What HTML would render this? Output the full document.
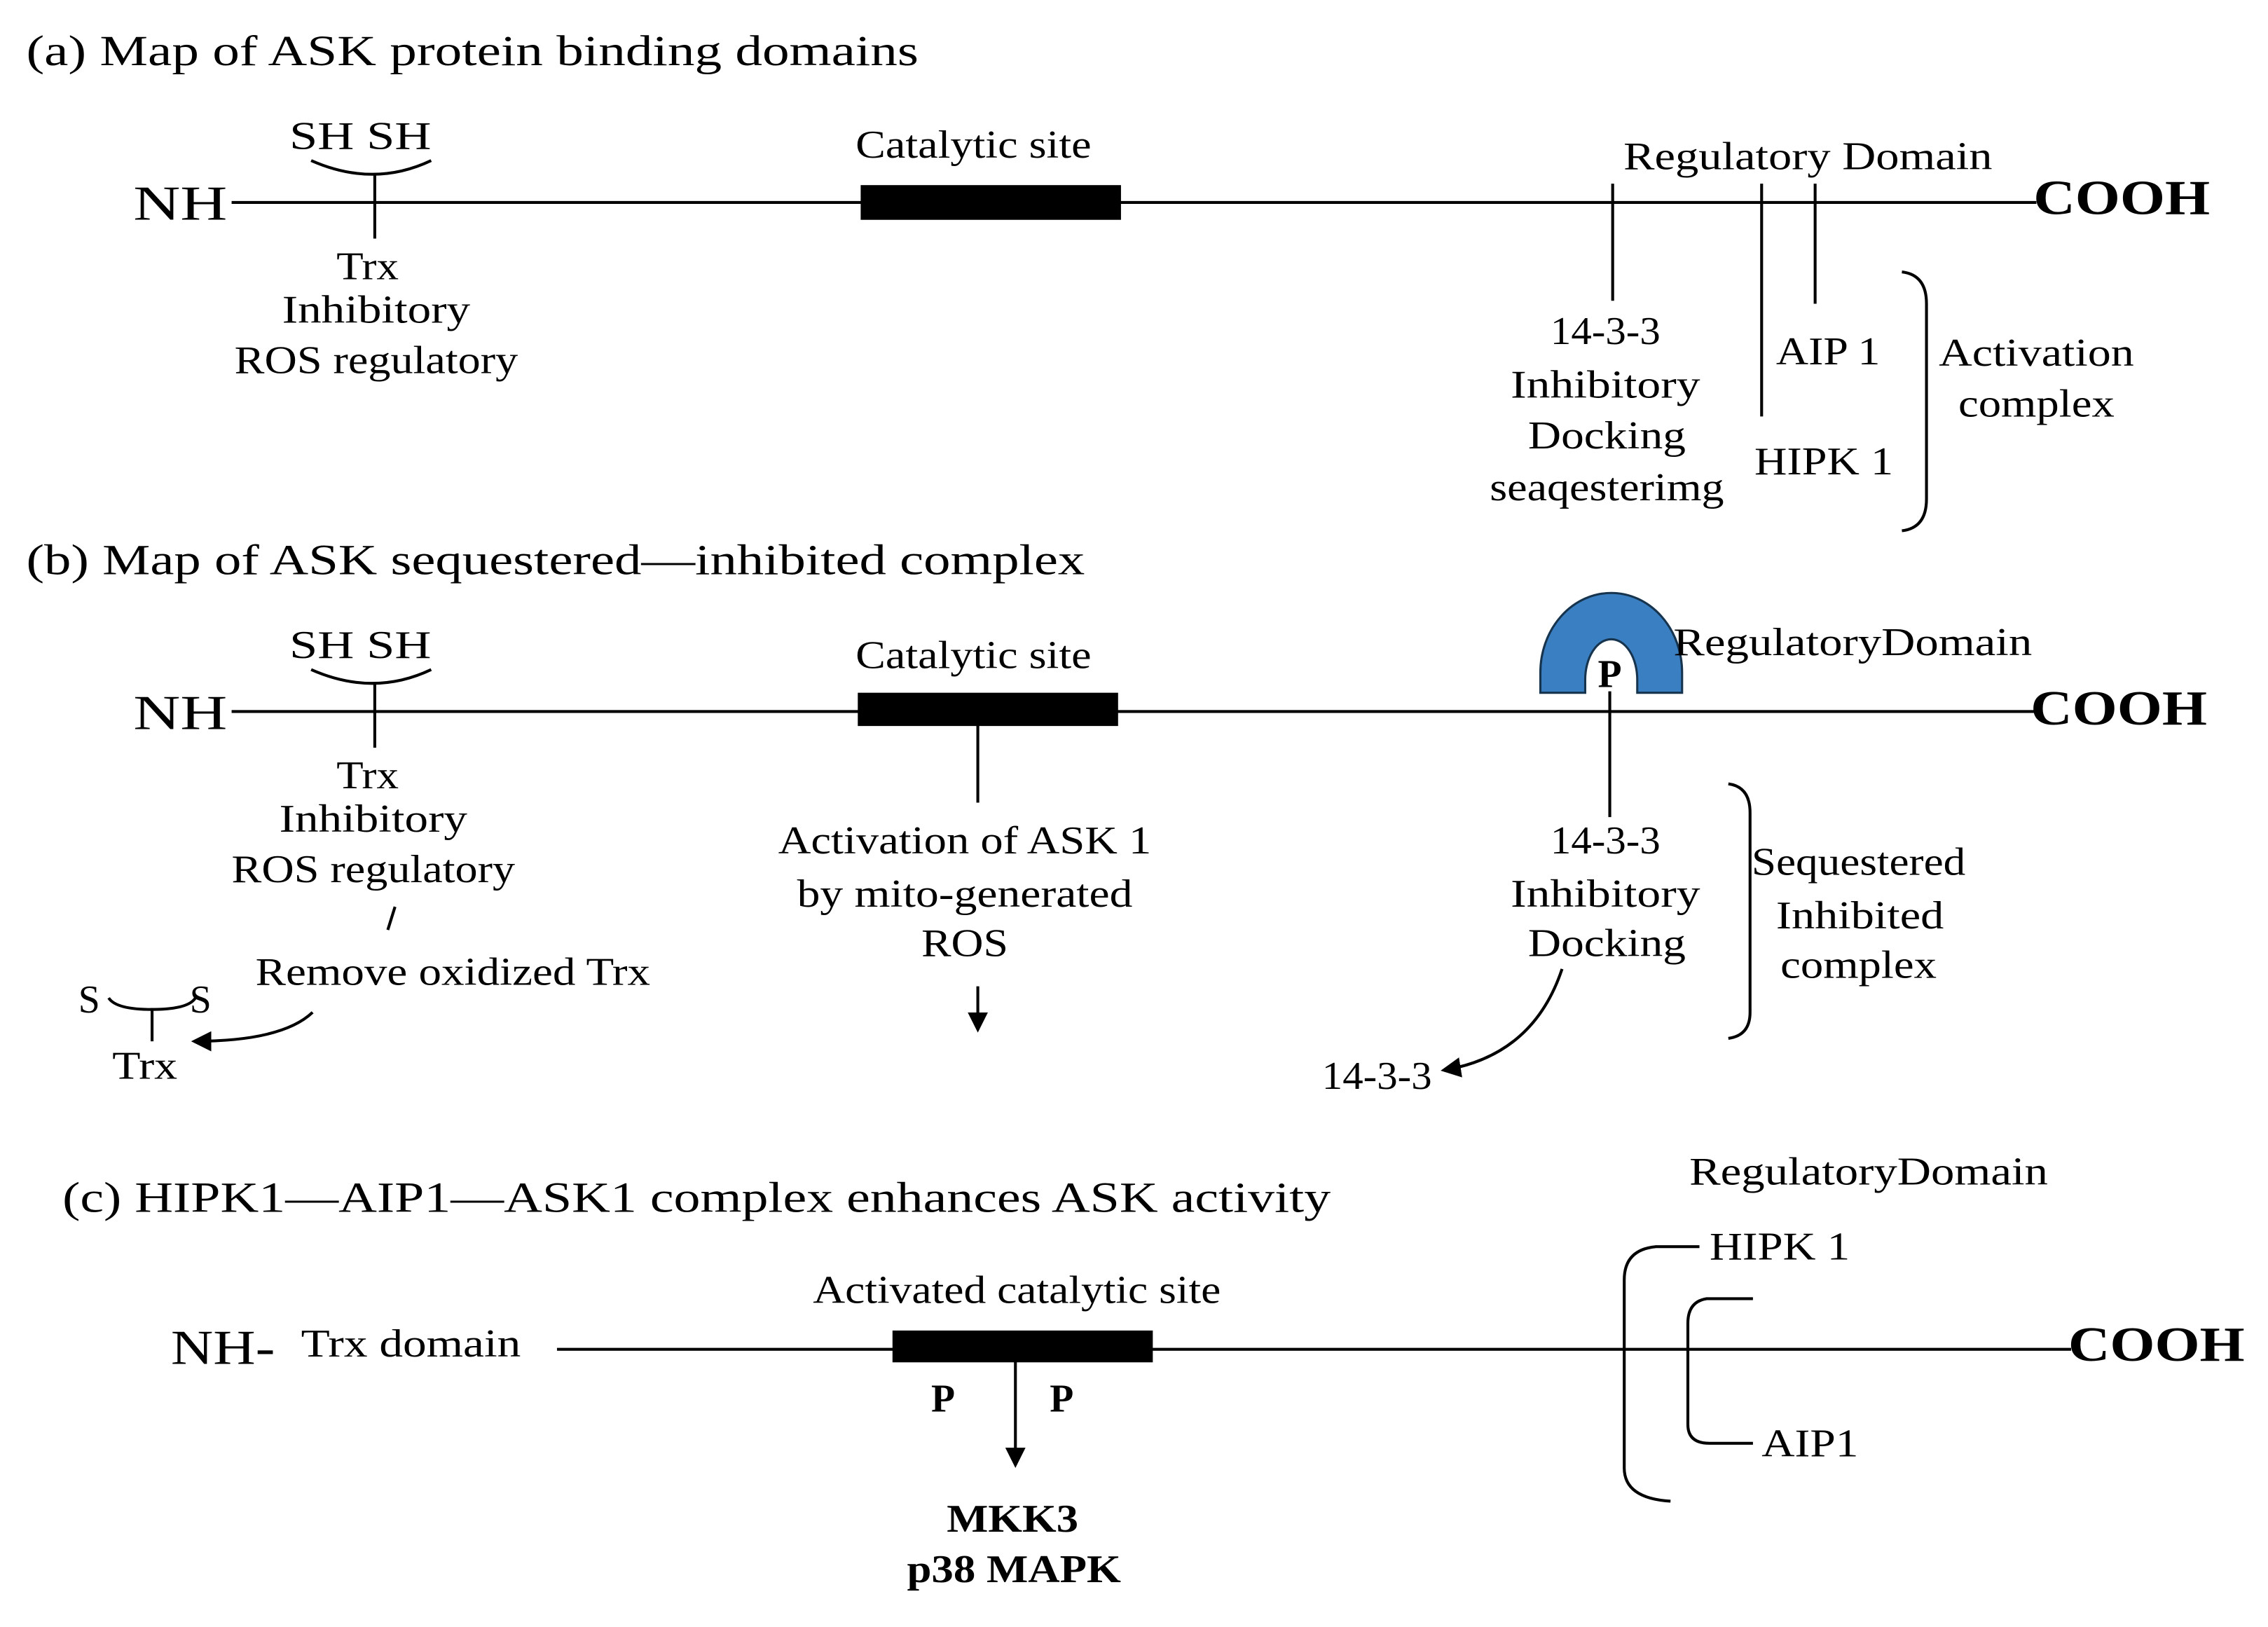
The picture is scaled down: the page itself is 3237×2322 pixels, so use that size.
<!DOCTYPE html>
<html><head><meta charset="utf-8"><style>
html,body{margin:0;padding:0;background:#fff}
svg{display:block}
text{font-family:"Liberation Serif",serif;fill:#000}
</style></head><body>
<svg width="3237" height="2322" viewBox="0 0 1568 1125" xmlns="http://www.w3.org/2000/svg">
<defs><marker id="ah2" markerWidth="14" markerHeight="14" refX="12" refY="7" orient="auto" markerUnits="userSpaceOnUse"><path d="M0,0 L14,7 L0,14 Z" fill="#000"/></marker></defs>
<g stroke="#000" stroke-width="2" fill="none">
<line x1="160" y1="140" x2="1408" y2="140"/>
<path d="M215,111 Q258,130 298,111"/>
<line x1="259" y1="120" x2="259" y2="165"/>
<line x1="1115" y1="127" x2="1115" y2="208"/>
<line x1="1218" y1="127" x2="1218" y2="288"/>
<line x1="1255" y1="127" x2="1255" y2="210"/>
<path d="M1315,188 Q1332,190 1332,210 L1332,345 Q1332,365 1315,367"/>
<line x1="160" y1="492" x2="1408" y2="492"/>
<path d="M215,463 Q258,482 298,463"/>
<line x1="259" y1="472" x2="259" y2="517"/>
<line x1="676" y1="500" x2="676" y2="555"/>
<line x1="1113" y1="478" x2="1113" y2="565"/>
<line x1="273" y1="627" x2="268" y2="643"/>
<path d="M75,690 Q80,698 105,698 Q130,698 135,690"/>
<line x1="105" y1="697" x2="105" y2="720"/>
<path d="M216,700 Q195,720 134,720" marker-end="url(#ah2)"/>
<line x1="676" y1="682" x2="676" y2="712" marker-end="url(#ah2)"/>
<path d="M1080,670 Q1060,730 998,740" marker-end="url(#ah2)"/>
<path d="M1195,542 Q1210,544 1210,562 L1210,700 Q1210,716 1195,718"/>
<line x1="385" y1="933" x2="1432" y2="933"/>
<line x1="702" y1="935" x2="702" y2="1013" marker-end="url(#ah2)"/>
<path d="M1175,862 L1145,862 Q1123,864 1123,885 L1123,1015 Q1123,1036 1155,1038"/>
<path d="M1212,898 L1180,898 Q1167,900 1167,915 L1167,985 Q1167,998 1182,998 L1212,998"/>
</g>
<rect x="595" y="128" width="180" height="24" fill="#000"/>
<rect x="593" y="479" width="180" height="23" fill="#000"/>
<rect x="617" y="920" width="180" height="22" fill="#000"/>
<path d="M1065,479 L1065,465 A49,55 0 0 1 1163,465 L1163,479 L1132,479 L1132,470 A18,28 0 0 0 1096,470 L1096,479 Z" fill="#3a7fc1" stroke="#17344f" stroke-width="1.5"/>
<g font-size="30" lengthAdjust="spacingAndGlyphs">
<text x="18" y="45" textLength="617" lengthAdjust="spacingAndGlyphs">(a)  Map of ASK protein binding domains</text>
<text x="18" y="397" textLength="732" lengthAdjust="spacingAndGlyphs">(b)  Map of ASK sequestered—inhibited complex</text>
<text x="43" y="838" textLength="877" lengthAdjust="spacingAndGlyphs">(c)  HIPK1—AIP1—ASK1 complex enhances ASK activity</text>
</g>
<g font-size="34">
<text x="92" y="152" textLength="65" lengthAdjust="spacingAndGlyphs">NH</text>
<text x="92" y="504" textLength="65" lengthAdjust="spacingAndGlyphs">NH</text>
<text x="118" y="943" textLength="72" lengthAdjust="spacingAndGlyphs">NH-</text>
</g>
<g font-size="34" font-weight="bold">
<text x="1406" y="148" textLength="122" lengthAdjust="spacingAndGlyphs">COOH</text>
<text x="1404" y="501" textLength="122" lengthAdjust="spacingAndGlyphs">COOH</text>
<text x="1430" y="941" textLength="122" lengthAdjust="spacingAndGlyphs">COOH</text>
</g>
<g font-size="27" text-anchor="middle">
<text x="249" y="103" textLength="98" lengthAdjust="spacingAndGlyphs">SH  SH</text>
<text x="673" y="109" textLength="163" lengthAdjust="spacingAndGlyphs">Catalytic site</text>
<text x="1250" y="117" textLength="255" lengthAdjust="spacingAndGlyphs">Regulatory Domain</text>
<text x="254" y="193" textLength="43" lengthAdjust="spacingAndGlyphs">Trx</text>
<text x="260" y="223" textLength="130" lengthAdjust="spacingAndGlyphs">Inhibitory</text>
<text x="260" y="258" textLength="196" lengthAdjust="spacingAndGlyphs">ROS regulatory</text>
<text x="1110" y="238" textLength="76" lengthAdjust="spacingAndGlyphs">14-3-3</text>
<text x="1110" y="275" textLength="131" lengthAdjust="spacingAndGlyphs">Inhibitory</text>
<text x="1111" y="310" textLength="109" lengthAdjust="spacingAndGlyphs">Docking</text>
<text x="1111" y="346" textLength="162" lengthAdjust="spacingAndGlyphs">seaqesterimg</text>
<text x="1264" y="252" textLength="72" lengthAdjust="spacingAndGlyphs">AIP 1</text>
<text x="1261" y="328" textLength="96" lengthAdjust="spacingAndGlyphs">HIPK 1</text>
<text x="1408" y="253" textLength="135" lengthAdjust="spacingAndGlyphs">Activation</text>
<text x="1408" y="288" textLength="108" lengthAdjust="spacingAndGlyphs">complex</text>
<text x="249" y="455" textLength="98" lengthAdjust="spacingAndGlyphs">SH  SH</text>
<text x="673" y="462" textLength="163" lengthAdjust="spacingAndGlyphs">Catalytic site</text>
<text x="254" y="545" textLength="43" lengthAdjust="spacingAndGlyphs">Trx</text>
<text x="258" y="575" textLength="130" lengthAdjust="spacingAndGlyphs">Inhibitory</text>
<text x="258" y="610" textLength="196" lengthAdjust="spacingAndGlyphs">ROS regulatory</text>
<text x="313" y="681" textLength="273" lengthAdjust="spacingAndGlyphs">Remove oxidized Trx</text>
<text x="100" y="746" textLength="45" lengthAdjust="spacingAndGlyphs">Trx</text>
<text x="667" y="590" textLength="258" lengthAdjust="spacingAndGlyphs">Activation of ASK 1</text>
<text x="667" y="627" textLength="232" lengthAdjust="spacingAndGlyphs">by mito-generated</text>
<text x="667" y="661" textLength="60" lengthAdjust="spacingAndGlyphs">ROS</text>
<text x="1110" y="590" textLength="76" lengthAdjust="spacingAndGlyphs">14-3-3</text>
<text x="1110" y="627" textLength="131" lengthAdjust="spacingAndGlyphs">Inhibitory</text>
<text x="1111" y="661" textLength="109" lengthAdjust="spacingAndGlyphs">Docking</text>
<text x="952" y="753" textLength="76" lengthAdjust="spacingAndGlyphs">14-3-3</text>
<text x="1285" y="605" textLength="148" lengthAdjust="spacingAndGlyphs">Sequestered</text>
<text x="1286" y="642" textLength="116" lengthAdjust="spacingAndGlyphs">Inhibited</text>
<text x="1285" y="676" textLength="108" lengthAdjust="spacingAndGlyphs">complex</text>
<text x="703" y="901" textLength="282" lengthAdjust="spacingAndGlyphs">Activated catalytic site</text>
<text x="1292" y="819" textLength="248" lengthAdjust="spacingAndGlyphs">RegulatoryDomain</text>
</g>
<g font-size="27">
<text x="54" y="700">S</text><text x="131" y="700">S</text>
<text x="1157" y="453" textLength="248" lengthAdjust="spacingAndGlyphs">RegulatoryDomain</text>
<text x="208" y="938" textLength="152" lengthAdjust="spacingAndGlyphs">Trx domain</text>
<text x="1182" y="871" textLength="97" lengthAdjust="spacingAndGlyphs">HIPK 1</text>
<text x="1218" y="1007" textLength="67" lengthAdjust="spacingAndGlyphs">AIP1</text>
</g>
<g font-size="27" font-weight="bold" text-anchor="middle">
<text x="1113" y="475">P</text>
<text x="652" y="976">P</text><text x="734" y="976">P</text>
<text x="700" y="1059" textLength="91" lengthAdjust="spacingAndGlyphs">MKK3</text>
<text x="701" y="1094" textLength="148" lengthAdjust="spacingAndGlyphs">p38 MAPK</text>
</g>
</svg>
</body></html>
